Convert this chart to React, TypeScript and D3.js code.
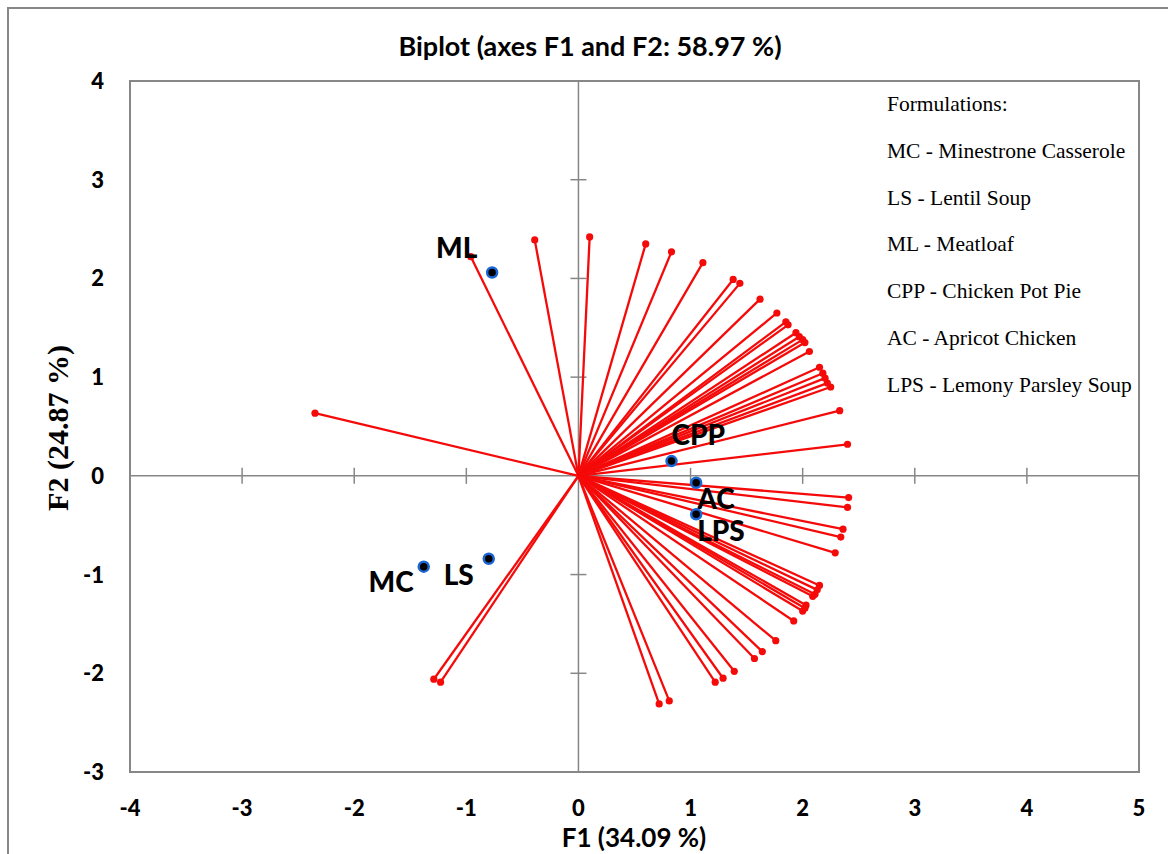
import * as d3 from 'd3';
import React, { useEffect } from 'react';

// loadings (variables)
const varF1 = [
  -2.35, -0.96, -0.39, 0.1, 0.6, 0.83, 1.11, 1.38, 1.44, 1.62, 1.77, 1.85, 1.87, 1.94, 1.97, 2.0, 2.02, 2.06,
  2.15, 2.18, 2.2, 2.22, 2.25, 2.33, 2.4,
  2.41, 2.4, 2.36, 2.34, 2.29, 2.15, 2.13, 2.11, 2.09, 2.03, 2.02, 2.0, 1.92, 1.76, 1.64, 1.57, 1.39, 1.29,
  1.22, 0.81, 0.72, -1.29, -1.23,
];
const varF2 = [
  0.635, 2.22, 2.39, 2.42, 2.35, 2.27, 2.16, 1.99, 1.95, 1.79, 1.65, 1.56, 1.53, 1.45, 1.41, 1.38, 1.35, 1.26,
  1.1, 1.04, 0.99, 0.94, 0.9, 0.66, 0.32,
  -0.22, -0.32, -0.54, -0.62, -0.78, -1.11, -1.155, -1.2, -1.22, -1.31, -1.34, -1.37, -1.47, -1.67, -1.78,
  -1.85, -1.98, -2.05, -2.09, -2.28, -2.31, -2.06, -2.09,
];

// observations (formulations)
const obsNames = ['ML', 'MC', 'LS', 'CPP', 'AC', 'LPS'];
const obsF1 = [-0.77, -1.38, -0.8, 0.83, 1.05, 1.05];
const obsF2 = [2.06, -0.92, -0.84, 0.15, -0.07, -0.39];
// label offset (px) from the point, text anchor
const obsLabelPos: [number, number, string][] = [
  [-56, -15, 'start'],
  [-10, 25, 'end'],
  [-45, 26, 'start'],
  [0, -16, 'start'],
  [1, 26, 'start'],
  [1, 27, 'start'],
];

const legendLines = [
  'Formulations:',
  'MC - Minestrone Casserole',
  'LS - Lentil Soup',
  'ML - Meatloaf',
  'CPP - Chicken Pot Pie',
  'AC - Apricot Chicken',
  'LPS - Lemony Parsley Soup',
];

const xTicks = [-4, -3, -2, -1, 0, 1, 2, 3, 4, 5];
const yTicks = [4, 3, 2, 1, 0, -1, -2, -3];

const width = 1168;
const height = 854;
const plot = { left: 130, right: 1139, top: 81, bottom: 772 };
const gray = '#878787';
const red = '#f50a0a';
const sans = 'Lato, "Open Sans", sans-serif';
const serif = '"Liberation Serif", "DejaVu Serif", serif';

const App: React.FC = () => {
  useEffect(() => {
    document.body.style.margin = '0';
  }, []);

  const x = d3.scaleLinear().domain([-4, 5]).range([plot.left, plot.right]);
  const y = d3.scaleLinear().domain([-3, 4]).range([plot.bottom, plot.top]);
  const x0 = x(0);
  const y0 = y(0);

  return (
    <svg width={width} height={height} style={{ display: 'block', background: '#fff' }}>
      {/* outer chart border */}
      <rect x={8} y={8} width={width + 20} height={height + 20} fill="none" stroke={gray} strokeWidth={2} />
      <text x={590} y={56} textAnchor="middle" fontFamily={sans} fontWeight="bold" fontSize={27}>
        Biplot (axes F1 and F2: 58.97 %)
      </text>
      {/* plot frame */}
      <rect
        x={plot.left}
        y={plot.top}
        width={plot.right - plot.left}
        height={plot.bottom - plot.top}
        fill="none"
        stroke={gray}
        strokeWidth={2}
      />
      {/* zero axes */}
      <line x1={plot.left} x2={plot.right} y1={y0} y2={y0} stroke={gray} strokeWidth={1.5} />
      <line x1={x0} x2={x0} y1={plot.top} y2={plot.bottom} stroke={gray} strokeWidth={1.5} />
      {xTicks
        .filter((t) => t !== 0 && t !== -4 && t !== 5)
        .map((t) => (
          <line key={'xt' + t} x1={x(t)} x2={x(t)} y1={y0 - 8} y2={y0 + 8} stroke={gray} strokeWidth={1.5} />
        ))}
      {yTicks
        .filter((t) => t !== 0 && t !== 4 && t !== -3)
        .map((t) => (
          <line key={'yt' + t} x1={x0 - 8} x2={x0 + 8} y1={y(t)} y2={y(t)} stroke={gray} strokeWidth={1.5} />
        ))}
      {/* tick labels */}
      {xTicks.map((t) => (
        <text
          key={'xl' + t}
          x={x(t)}
          y={816}
          textAnchor="middle"
          fontFamily={sans}
          fontWeight="900"
          fontSize={22}
        >
          {t}
        </text>
      ))}
      {yTicks.map((t) => (
        <text
          key={'yl' + t}
          x={104}
          y={y(t) + 8}
          textAnchor="end"
          fontFamily={sans}
          fontWeight="900"
          fontSize={22}
        >
          {t}
        </text>
      ))}
      {/* axis titles */}
      <text x={634} y={847} textAnchor="middle" fontFamily={sans} fontWeight="bold" fontSize={26}>
        F1 (34.09 %)
      </text>
      <text
        transform={`translate(68,428) rotate(-90)`}
        textAnchor="middle"
        fontFamily={serif}
        fontWeight="bold"
        fontSize={30}
      >
        F2 (24.87 %)
      </text>
      {/* variable vectors */}
      {varF1.map((v, i) => (
        <g key={'v' + i}>
          <line x1={x0} y1={y0} x2={x(v)} y2={y(varF2[i])} stroke={red} strokeWidth={2.3} />
          <circle cx={x(v)} cy={y(varF2[i])} r={3.6} fill={red} />
        </g>
      ))}
      {/* observations */}
      {obsNames.map((n, i) => (
        <g key={n}>
          <circle cx={x(obsF1[i])} cy={y(obsF2[i])} r={5} fill="#000" stroke="#1a66d6" strokeWidth={2.5} />
          <text
            x={x(obsF1[i]) + obsLabelPos[i][0]}
            y={y(obsF2[i]) + obsLabelPos[i][1]}
            textAnchor={obsLabelPos[i][2]}
            fontFamily={sans}
            fontWeight="900"
            fontSize={28}
          >
            {n}
          </text>
        </g>
      ))}
      {/* legend text */}
      {legendLines.map((l, i) => (
        <text key={l} x={887} y={111 + i * 46.8} fontFamily={serif} fontSize={21.5}>
          {l}
        </text>
      ))}
    </svg>
  );
};

export default App;
